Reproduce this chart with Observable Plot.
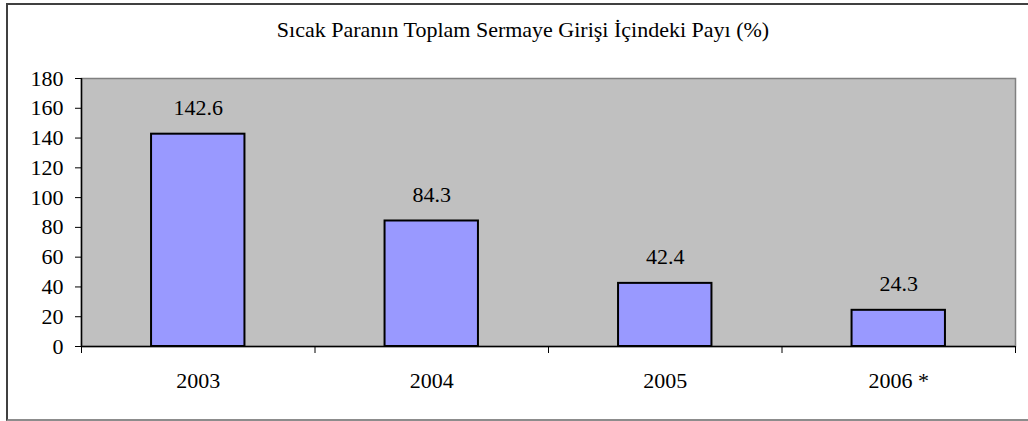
<!DOCTYPE html>
<html><head><meta charset="utf-8">
<script src="https://cdn.jsdelivr.net/npm/d3@7"></script>
<script src="https://cdn.jsdelivr.net/npm/@observablehq/plot@0.6"></script>
<style>
body{margin:0;background:#fff;width:1028px;height:421px;overflow:hidden;position:relative;font-family:'Liberation Serif';color:#000;}
#frame{position:absolute;left:6px;top:3px;width:1040px;height:414px;border-top:2px solid #404040;border-left:2px solid #404040;border-bottom:2px solid #8c8c8c;box-sizing:content-box;}
#title{position:absolute;left:6px;top:18px;width:1034px;text-align:center;font-family:'Liberation Serif';font-size:22px;line-height:24px;}
#chart{position:absolute;left:0;top:60px;}
</style></head><body>
<div id="frame"></div>
<div id="title">Sıcak Paranın Toplam Sermaye Girişi İçindeki Payı (%)</div>
<div id="chart"></div>
<script>
const categories = ["2003", "2004", "2005", "2006 *"];
const values = [142.6, 84.3, 42.4, 24.3];
const yTicks = [0, 20, 40, 60, 80, 100, 120, 140, 160, 180];

const data = categories.map((c, i) => ({i, category: c, value: values[i]}));
const n = categories.length;
const serif = "Liberation Serif";
const fs = 22;

const chart = Plot.plot({
  width: 1028,
  height: 361,
  marginTop: 18,
  marginBottom: 75,
  marginLeft: 81,
  marginRight: 13,
  style: {"font-family": serif, "background": "transparent", "overflow": "visible", "color": "#000"},
  x: {type: "linear", domain: [0, n], axis: null},
  y: {domain: [0, 180], axis: null},
  marks: [
    Plot.frame({fill: "#C0C0C0", stroke: "#808080", strokeWidth: 1.5}),
    Plot.rectY(data, {x1: d => d.i + 0.3, x2: d => d.i + 0.7, y: "value", fill: "#9999FF", stroke: "#000", strokeWidth: 2}),
    Plot.text(data, {x: d => d.i + 0.5, y: "value", text: d => d.value.toFixed(1), dy: -26, fontSize: fs, fontFamily: serif, fill: "#000"}),
    Plot.ruleY([0], {stroke: "#000", strokeWidth: 1.5}),
    Plot.ruleX([0], {stroke: "#000", strokeWidth: 1.5}),
    Plot.axisY({ticks: yTicks, label: null, tickSize: 6, tickPadding: 12, fontSize: fs, fontFamily: serif, stroke: "#000", fill: "#000"}),
    Plot.axisX({ticks: d3.range(n + 1), label: null, tickSize: 7, tickFormat: () => "", stroke: "#000"}),
    Plot.axisX({ticks: d3.range(n).map(i => i + 0.5), label: null, tickSize: 0, tickPadding: 26, tickFormat: t => categories[Math.floor(t)], fontSize: fs, fontFamily: serif, fill: "#000"})
  ]
});
document.getElementById("chart").appendChild(chart);
</script>
</body></html>
